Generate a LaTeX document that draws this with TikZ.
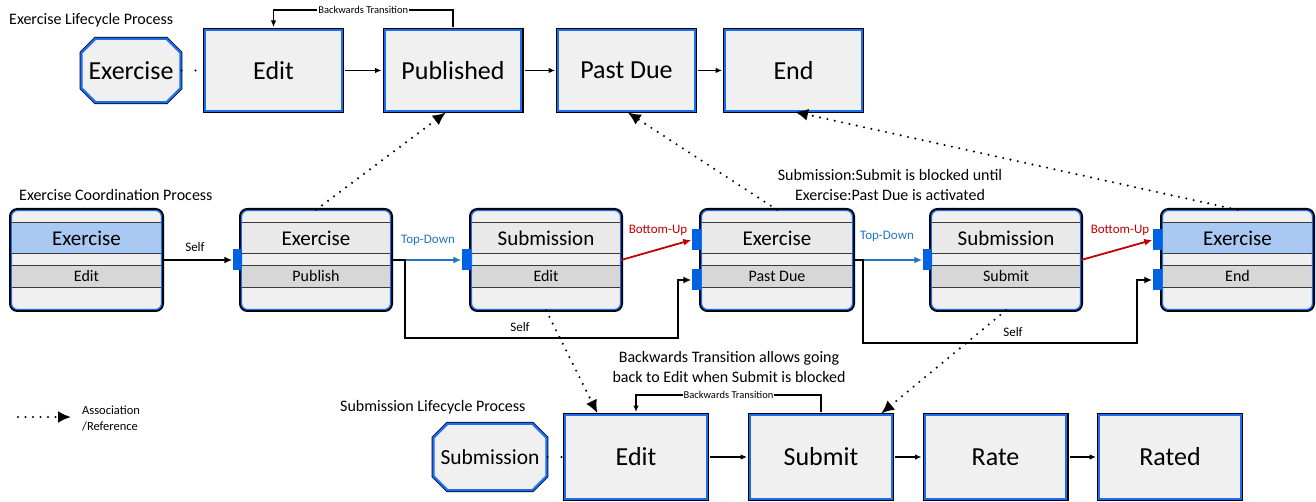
\documentclass[tikz,border=0pt]{standalone}
\usepackage{fontspec}
\setmainfont{Carlito}
\usetikzlibrary{arrows.meta,shapes.misc}
\definecolor{bxblue}{HTML}{1A6CF0}
\definecolor{portblue}{HTML}{0062E3}
\definecolor{tdblue}{HTML}{2474C4}
\definecolor{buRed}{HTML}{C00000}
\definecolor{hdrblue}{HTML}{A9C8F2}
\definecolor{boxfill}{HTML}{F0F0F0}
\definecolor{hdrgray}{HTML}{E9E9E9}
\definecolor{stgray}{HTML}{D7D7D7}
\definecolor{rowline}{HTML}{3A3A3A}
\newcommand{\fsz}[2]{\fontsize{#1}{#2}\selectfont}
\tikzset{
  lbox/.style={rectangle, inner sep=0pt, fill=boxfill, draw=bxblue, line width=2pt,
    preaction={draw=black, line width=4.8pt}, minimum width=136.2pt, minimum height=80.2pt, font=\fsz{26}{31}},
  bbox/.style={lbox, minimum width=141.2pt, minimum height=83.2pt},
  obox/.style={chamfered rectangle, chamfered rectangle xsep=7pt, chamfered rectangle ysep=7pt,
    inner sep=0pt, fill=boxfill, draw=bxblue, line width=2.2pt, preaction={draw=black, line width=3.6pt}},
  cbox/.style={rectangle, rounded corners=6pt, inner sep=0pt, fill=boxfill, draw=bxblue, line width=1.3pt,
    preaction={draw=black, line width=5pt}, minimum height=99pt},
  port/.style={rectangle, inner sep=0pt, fill=portblue, minimum width=9pt, minimum height=21pt},
  hdr/.style={font=\fsz{21}{25}, inner sep=0pt},
  st/.style={font=\fsz{16}{19}, inner sep=0pt},
  ttl/.style={font=\fsz{16}{19}, inner sep=0pt, anchor=west},
  note/.style={font=\fsz{16}{20}, inner sep=0pt, align=center},
  small/.style={font=\fsz{13}{15}, inner sep=0pt},
  tiny/.style={font=\fsz{10.5}{12}, inner sep=1pt, fill=white},
  arr/.style={line width=1.1pt, -{Latex[length=6.5pt,width=5.5pt]}},
  carr/.style={line width=1.8pt, -{Latex[length=8pt,width=7pt]}},
  assoc/.style={line width=2.3pt, dash pattern=on 0pt off 7.5pt, line cap=round, -{Latex[length=13pt,width=12pt]}},
  dots/.style={line width=2.2pt, dash pattern=on 0pt off 14pt, line cap=round},
}
\newcommand{\CoordBox}[6]{%
  \node[cbox, minimum width={#3-#2-5}] (#1) at ({(#2+#3)/2},260) {};
  \fill[#6] ({#2+3.2},222) rectangle ({#3-3.2},253);
  \fill[stgray] ({#2+3.2},265) rectangle ({#3-3.2},287);
  \foreach \yy in {222,253,265,287}{\draw[rowline, line width=0.9pt] ({#2+3.2},\yy) -- ({#3-3.2},\yy);}
  \node[hdr] (#1h) at ({(#2+#3)/2},238) {#4};
  \node[st] (#1s) at ({(#2+#3)/2},276.5) {#5};
}
\begin{document}
\begin{tikzpicture}[x=1pt,y=-1pt]
\useasboundingbox (0,0) rectangle (1316,502);
% ---------- Exercise lifecycle ----------
\node[ttl] (t1) at (9,20) {Exercise Lifecycle Process};
\node[obox, minimum width=98.5pt, minimum height=63.5pt, font=\fsz{26}{31}] (ex) at (131,70.5) {Exercise};
\node[lbox] (edit) at (273.5,70.5) {Edit};
\node[lbox] (pub) at (453,70.5) {Published};
\node[lbox] (pd) at (626.5,70.5) {Past Due};
\node[lbox] (fin) at (793.5,70.5) {End};
\draw[dots] (ex.east) -- (edit.west);
\draw[arr, shorten <=2.4pt, shorten >=2.4pt] (edit.east) -- (pub.west);
\draw[arr, shorten <=2.4pt, shorten >=2.4pt] (pub.east) -- (pd.west);
\draw[arr, shorten <=2.4pt, shorten >=2.4pt] (pd.east) -- (fin.west);
\draw[arr, shorten >=2.4pt] ([yshift=2.4pt]pub.north) -- ++(0,-17) -| (edit.north)
  node[tiny, pos=0.25] (bt1) {Backwards Transition};
% ---------- Coordination ----------
\node[ttl] (t2) at (19,195) {Exercise Coordination Process};
\CoordBox{c1}{9}{164}{Exercise}{Edit}{hdrblue}
\CoordBox{c2}{239}{393}{Exercise}{Publish}{hdrgray}
\CoordBox{c3}{469}{623}{Submission}{Edit}{hdrgray}
\CoordBox{c4}{699}{855}{Exercise}{Past Due}{hdrgray}
\CoordBox{c5}{929}{1083}{Submission}{Submit}{hdrgray}
\CoordBox{c6}{1160}{1315}{Exercise}{End}{hdrblue}
\node[port] (p2) at (237,260) {};
\node[port] (p3) at (466,260) {};
\node[port] (p4a) at (696,240) {};
\node[port] (p4b) at (696,280) {};
\node[port] (p5) at (927,260) {};
\node[port] (p6a) at (1157,240) {};
\node[port] (p6b) at (1157,280) {};
\draw[carr, tdblue] (c2.east) -- (p3.west);
\draw[carr, buRed] (c3.east) -- (p4a.west);
\draw[carr, tdblue] (c4.east) -- (p5.west);
\draw[carr, buRed] (c5.east) -- (p6a.west);
\draw[carr] (c1.east) -- (p2.west);
\draw[carr] (c2.east) -- (405,260) -- (405,338) -- (678,338) |- (p4b.west);
\draw[carr] (c4.east) -- (863,260) -- (863,343) -- (1137,343) |- (p6b.west);
\node[small] (s1) at (195,247) {Self};
\node[small, tdblue] (td1) at (428,240) {Top-Down};
\node[small, buRed] (bu1) at (658,230) {Bottom-Up};
\node[small] (s2) at (520,327) {Self};
\node[small, tdblue] (td2) at (887,236) {Top-Down};
\node[small, buRed] (bu2) at (1120,230) {Bottom-Up};
\node[small] (s3) at (1013,332) {Self};
\node[note] (n1) at (890,185) {Submission:Submit is blocked until\\Exercise:Past Due is activated};
% ---------- Submission lifecycle ----------
\node[ttl] (t3) at (340,407) {Submission Lifecycle Process};
\node[obox, minimum width=102.5pt, minimum height=66.5pt, font=\fsz{21.5}{26}] (sub) at (490,457) {Submission};
\node[bbox] (sedit) at (636,457) {Edit};
\node[bbox] (submit) at (821,457) {Submit};
\node[bbox] (rate) at (995.5,457) {Rate};
\node[bbox] (rated) at (1170,457) {Rated};
\draw[dots] (sub.east) -- (sedit.west);
\draw[arr, shorten <=2.4pt, shorten >=2.4pt] (sedit.east) -- (submit.west);
\draw[arr, shorten <=2.4pt, shorten >=2.4pt] (submit.east) -- (rate.west);
\draw[arr, shorten <=2.4pt, shorten >=2.4pt] (rate.east) -- (rated.west);
\draw[arr, shorten >=2.4pt] ([yshift=2.4pt]submit.north) -- ++(0,-17) -| (sedit.north)
  node[tiny, pos=0.25] (bt2) {Backwards Transition};
\node[note] (n2) at (729,367) {Backwards Transition allows going\\back to Edit when Submit is blocked};
% ---------- Associations ----------
\draw[assoc, shorten >=1.5pt] (c2.north) -- ([xshift=-6pt]pub.south);
\draw[assoc, shorten >=1.5pt] (c4.north) -- (pd.south);
\draw[assoc, shorten >=1.5pt] (c6.north) -- (fin.south);
\draw[assoc, shorten >=1.5pt] (c3.south) -- ([xshift=-38pt]sedit.north);
\draw[assoc, shorten >=1.5pt] (c5.south) -- ([xshift=59pt]submit.north);
% ---------- Legend ----------
\coordinate (lg0) at (18,417);
\coordinate (lg1) at (71,417);
\draw[assoc] (lg0) -- (lg1);
\node[font=\fsz{12.5}{16}, align=left, anchor=west, inner sep=0pt] (lgt) at (82,418) {Association\\/Reference};
\end{tikzpicture}
\end{document}
